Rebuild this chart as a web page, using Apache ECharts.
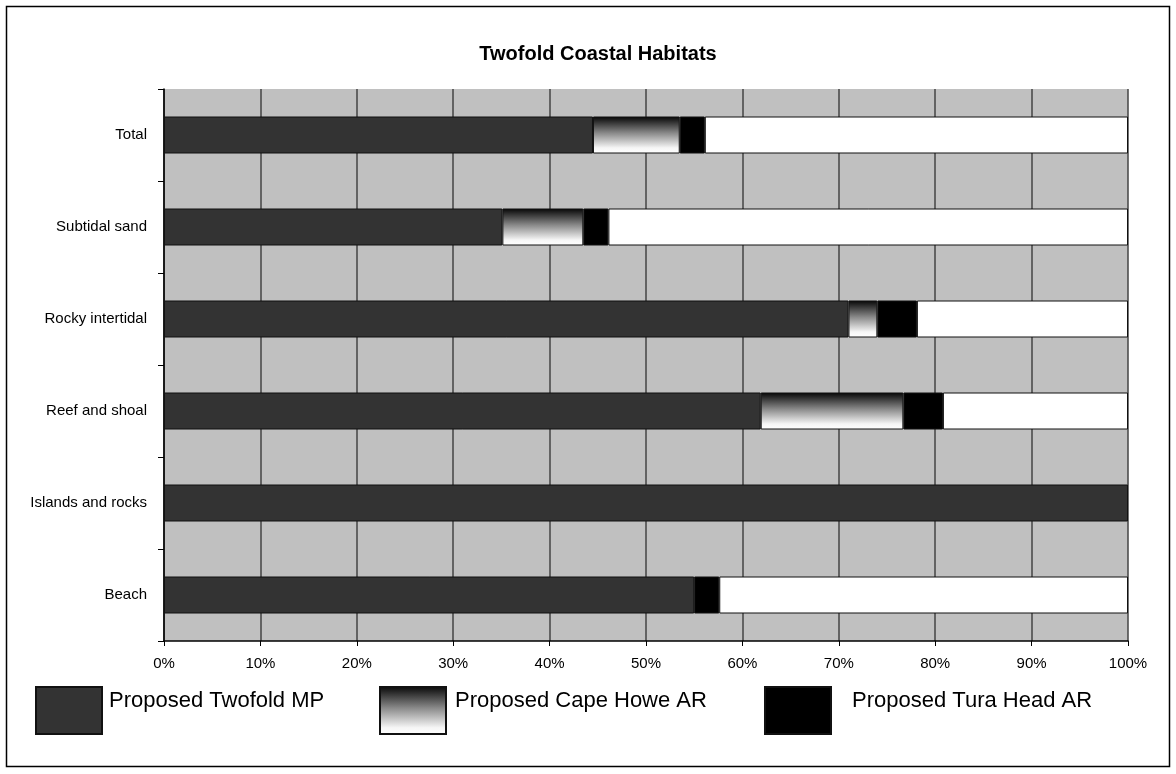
<!DOCTYPE html>
<html>
<head>
<meta charset="utf-8">
<script src="https://cdn.jsdelivr.net/npm/echarts@6/dist/echarts.min.js"></script>
<style>
  html, body { margin: 0; padding: 0; background: #fff; }
  #chart { width: 1176px; height: 774px; }
</style>
</head>
<body>
<div id="chart"></div>
<script>
// Habitat categories, listed bottom to top as they appear on the axis
const habitats = ['Beach', 'Islands and rocks', 'Reef and shoal', 'Rocky intertidal', 'Subtidal sand', 'Total'];

// Share of each habitat (%) by proposed area
const twofoldMP  = [55.0, 100, 61.9, 71.0, 35.1, 44.5];
const capeHoweAR = ['-', '-', 14.8, 3.0, 8.4, 9.0];
const turaHeadAR = [2.6, '-', 4.1, 4.1, 2.6, 2.6];
const remainder  = [42.4, '-', 19.2, 21.9, 53.9, 43.9];

const FONT = '"Liberation Sans", Arial, Helvetica, sans-serif';
const chart = echarts.init(document.getElementById('chart'), null, { renderer: 'canvas' });

const capeGradient = new echarts.graphic.LinearGradient(0, 0, 0, 1, [
  { offset: 0, color: '#050505' },
  { offset: 0.45, color: '#8a8a8a' },
  { offset: 0.85, color: '#f6f6f6' },
  { offset: 1, color: '#ffffff' }
]);

const barBase = {
  type: 'bar',
  stack: 'share',
  barWidth: 37,
  silent: true
};

// Legend label sits in the upper half of the tall swatch
function legendBlock(left, name, gap) {
  return {
    orient: 'horizontal',
    left: left,
    top: 686,
    padding: 0,
    itemWidth: 66,
    itemHeight: 47,
    icon: 'rect',
    selectedMode: false,
    data: [name],
    formatter: n => '{g|}{t|' + n + '}\n{t| }',
    textStyle: {
      fontFamily: FONT, fontSize: 22, color: '#000',
      rich: {
        g: { width: gap },
        t: { fontFamily: FONT, fontSize: 22, color: '#000', lineHeight: 20 }
      }
    }
  };
}

chart.setOption({
  animation: false,
  backgroundColor: '#ffffff',
  title: {
    text: 'Twofold Coastal Habitats',
    left: 593,
    textAlign: 'center',
    top: 39,
    textStyle: { fontFamily: FONT, fontSize: 20, fontWeight: 'bold', color: '#000' }
  },
  graphic: [{
    type: 'rect',
    shape: { x: 6.5, y: 6.5, width: 1163, height: 760 },
    style: { fill: 'none', stroke: '#000', lineWidth: 1.5 },
    z: -1
  }],
  legend: [
    legendBlock(35, 'Proposed Twofold MP', 2),
    legendBlock(379, 'Proposed Cape Howe AR', 4),
    legendBlock(764, 'Proposed Tura Head AR', 16)
  ],
  grid: {
    left: 164,
    right: 48,
    top: 89,
    bottom: 133,
    show: true,
    backgroundColor: '#c0c0c0',
    borderWidth: 0
  },
  xAxis: {
    type: 'value',
    min: 0,
    max: 100,
    interval: 10,
    axisLine: { show: true, lineStyle: { color: '#000', width: 1.5 } },
    axisTick: { show: true, inside: false, length: 5, lineStyle: { color: '#000' } },
    axisLabel: {
      fontFamily: FONT, fontSize: 15, color: '#000', margin: 15,
      formatter: v => v + '%'
    },
    splitLine: { show: true, lineStyle: { color: '#444', width: 1.5 } }
  },
  yAxis: {
    type: 'category',
    data: habitats,
    axisLine: { show: true, lineStyle: { color: '#000', width: 1.5 } },
    axisTick: { show: true, length: 6, lineStyle: { color: '#000' } },
    axisLabel: { fontFamily: FONT, fontSize: 15, color: '#000', margin: 17 },
    splitLine: { show: false }
  },
  series: [
    Object.assign({}, barBase, {
      name: 'Proposed Twofold MP',
      data: twofoldMP,
      itemStyle: { color: '#333333', borderColor: '#111', borderWidth: 1 }
    }),
    Object.assign({}, barBase, {
      name: 'Proposed Cape Howe AR',
      data: capeHoweAR,
      itemStyle: { color: capeGradient, borderColor: '#111', borderWidth: 1 }
    }),
    Object.assign({}, barBase, {
      name: 'Proposed Tura Head AR',
      data: turaHeadAR,
      itemStyle: { color: '#000000', borderColor: '#111', borderWidth: 1 }
    }),
    Object.assign({}, barBase, {
      name: 'Remainder',
      data: remainder,
      itemStyle: { color: '#ffffff', borderColor: '#111', borderWidth: 1 }
    })
  ]
});
</script>
</body>
</html>
